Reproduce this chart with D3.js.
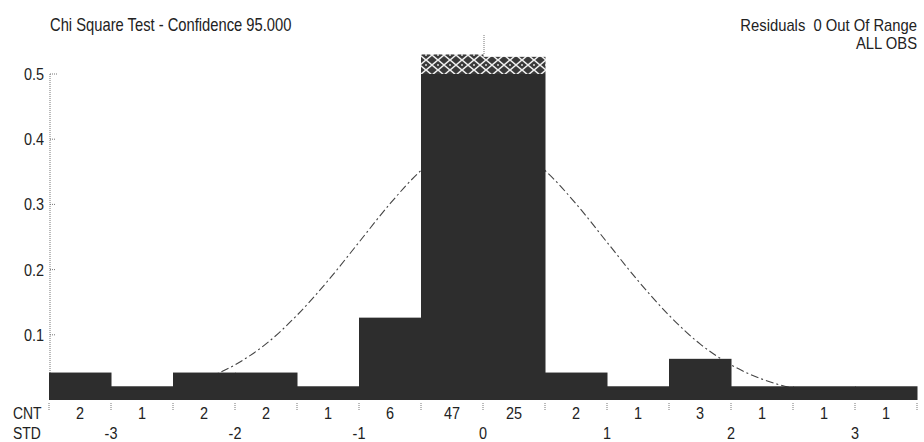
<!DOCTYPE html>
<html>
<head>
<meta charset="utf-8">
<script src="https://cdn.jsdelivr.net/npm/d3@7"></script>
<style>
  body { margin: 0; background: #fff; }
  text { font-family: "Liberation Sans", Arial, sans-serif; fill: #222; }
</style>
</head>
<body>
<div id="chart-area"></div>
<script>
// bins are half a standard deviation wide, from -3.5 to 3.5
var binStart = [-3.5, -3, -2.5, -2, -1.5, -1, -0.5, 0, 0.5, 1, 1.5, 2, 2.5, 3];
var binCounts = [2, 1, 2, 2, 1, 6, 47, 25, 2, 1, 3, 1, 1, 1];
var stdTicks = [-3, -2, -1, 0, 1, 2, 3];
var yTicks = [0.1, 0.2, 0.3, 0.4, 0.5];

// fitted normal curve
var curveStd = [-3.5, -3.25, -3, -2.75, -2.5, -2.25, -2, -1.75, -1.5, -1.25, -1, -0.75, -0.5, -0.25, 0,
                0.25, 0.5, 0.75, 1, 1.25, 1.5, 1.75, 2, 2.25, 2.5, 2.75, 3, 3.25, 3.5];
var curveDensity = [0.001, 0.002, 0.004, 0.009, 0.018, 0.032, 0.054, 0.086, 0.130, 0.183, 0.242, 0.301, 0.352, 0.387, 0.399,
                    0.387, 0.352, 0.301, 0.242, 0.183, 0.130, 0.086, 0.054, 0.032, 0.018, 0.009, 0.004, 0.002, 0.001];

var binWidth = 0.5;
var total = d3.sum(binCounts);
var yMax = 0.5, overCap = 0.53;

var svg = d3.select('#chart-area').append('svg')
  .attr('width', 924).attr('height', 442);

// condensed text: the original uses a narrow face
function label(parent, px, py, size, sx) {
  return parent.append('text')
    .attr('transform', `translate(${px},${py}) scale(${sx},1)`)
    .attr('font-size', size + 'px');
}

var defs = svg.append('defs');
var pat = defs.append('pattern').attr('id', 'hatch')
  .attr('patternUnits', 'userSpaceOnUse').attr('width', 12).attr('height', 10);
pat.append('rect').attr('width', 12).attr('height', 10).attr('fill', '#3a3a3a');
pat.append('path').attr('d', 'M0,5 L6,0 L12,5 L6,10 Z').attr('fill', 'none').attr('stroke', '#eee').attr('stroke-width', 1.6);
pat.append('circle').attr('cx', 6).attr('cy', 5).attr('r', 1).attr('fill', '#ddd');

var x = d3.scaleLinear().domain([-3.5, 3.5]).range([49, 917]);
var y = d3.scaleLinear().domain([0, 0.5]).range([400, 74]);

// titles
label(svg, 50, 31, 18, 0.82).text('Chi Square Test - Confidence 95.000');
label(svg, 917, 31, 17, 0.87).attr('text-anchor', 'end')
  .attr('xml:space', 'preserve').text('Residuals  0 Out Of Range');
label(svg, 917, 49, 17, 0.87).attr('text-anchor', 'end').text('ALL OBS');

// y axis, dotted
svg.append('line').attr('x1', 50).attr('x2', 50).attr('y1', y(yMax)).attr('y2', 400)
  .attr('stroke', '#777').attr('stroke-dasharray', '1,1');
yTicks.forEach(d => {
  svg.append('line').attr('x1', 50).attr('x2', d === yMax ? 58 : 56)
    .attr('y1', y(d)).attr('y2', y(d))
    .attr('stroke', '#777').attr('stroke-dasharray', '1,1');
  label(svg, 44, y(d) + 6, 17, 0.85).attr('text-anchor', 'end').text(d.toFixed(1));
});

// normal curve (behind bars)
var line = d3.line().x((d, i) => x(curveStd[i])).y(d => y(d)).curve(d3.curveMonotoneX);
svg.append('path').datum(curveDensity).attr('d', line)
  .attr('fill', 'none').attr('stroke', '#444').attr('stroke-width', 1.1)
  .attr('stroke-dasharray', '8,3,2,3');

// bars
var bins = binCounts.map((c, i) => ({ x0: binStart[i], count: c, dens: c / (total * binWidth) }));
svg.selectAll('.bar').data(bins).enter().append('rect').attr('class', 'bar')
  .attr('x', d => x(d.x0)).attr('width', x(binWidth) - x(0) + 0.5)
  .attr('y', d => y(Math.min(d.dens, yMax)))
  .attr('height', d => y(0) - y(Math.min(d.dens, yMax)))
  .attr('fill', '#2d2d2d');

var over = bins.filter(d => d.dens > yMax);
svg.selectAll('.over').data(over).enter().append('rect').attr('class', 'over')
  .attr('x', d => x(d.x0)).attr('width', x(binWidth) - x(0) + 0.5)
  .attr('y', d => y(Math.min(d.dens, overCap)))
  .attr('height', d => y(yMax) - y(Math.min(d.dens, overCap)))
  .attr('fill', 'url(#hatch)');

// mean marker above the center
svg.append('line').attr('x1', x(0) + 1).attr('x2', x(0) + 1).attr('y1', 35).attr('y2', y(overCap))
  .attr('stroke', '#777').attr('stroke-dasharray', '1,1');

// bottom ticks at bin edges
var edges = binStart.concat([3.5]);
svg.selectAll('.xtick').data(edges).enter().append('line').attr('class', 'xtick')
  .attr('x1', d => x(d)).attr('x2', d => x(d)).attr('y1', 403).attr('y2', 411)
  .attr('stroke', '#777').attr('stroke-dasharray', '1,1');

label(svg, 13, 419, 17, 0.82).text('CNT');
label(svg, 13, 439, 17, 0.82).text('STD');

bins.forEach(d => {
  label(svg, x(d.x0 + binWidth / 2), 419, 17, 0.85).attr('text-anchor', 'middle').text(d.count);
});
stdTicks.forEach(d => {
  label(svg, x(d), 439, 17, 0.85).attr('text-anchor', 'middle').text(d);
});
</script>
</body>
</html>
